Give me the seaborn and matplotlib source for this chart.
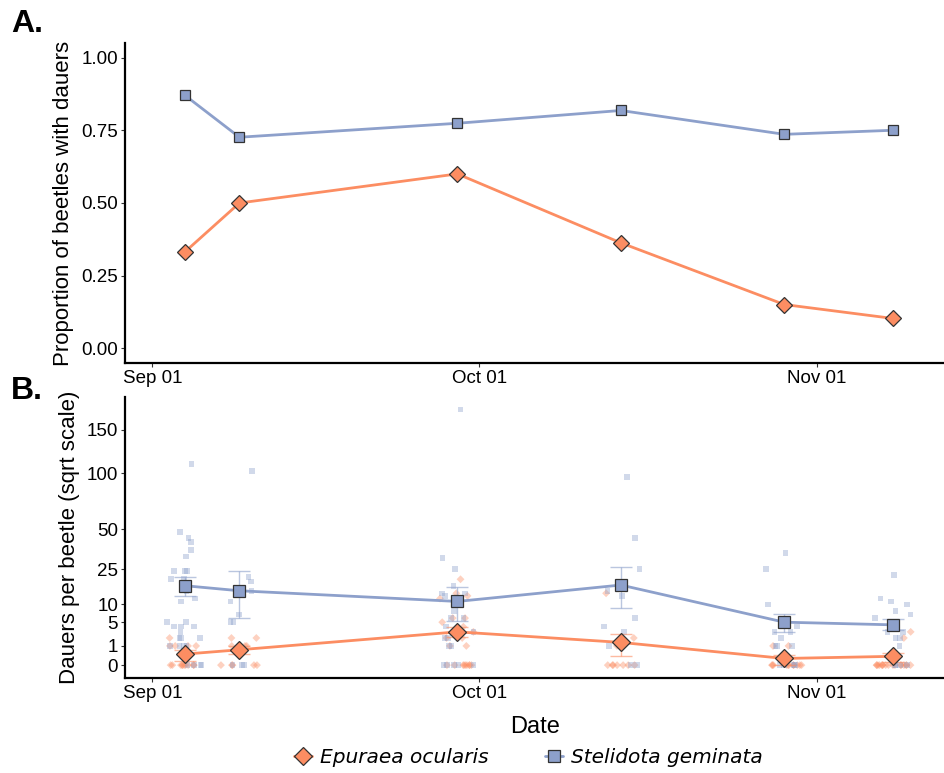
import numpy as np
import pandas as pd
import matplotlib
matplotlib.use("Agg")
import matplotlib.pyplot as plt
import matplotlib.dates as mdates
from matplotlib.lines import Line2D
import seaborn as sns

sns.set_theme(style="white")
plt.rcParams['font.family'] = ['Liberation Sans', 'DejaVu Sans']
plt.rcParams['text.color'] = 'black'
plt.rcParams['axes.labelcolor'] = 'black'

# ---------------------------------------------------------
# data
# ---------------------------------------------------------
species = ['Epuraea ocularis', 'Stelidota geminata']
dates = ['2019-09-04', '2019-09-09', '2019-09-29', '2019-10-14', '2019-10-29', '2019-11-08']

# panel A: proportion of beetles carrying dauers
prop_epuraea = [0.332, 0.50, 0.60, 0.363, 0.151, 0.103]
prop_stelidota = [0.870, 0.726, 0.774, 0.818, 0.736, 0.750]

# panel B: mean dauers per beetle and error bar ends
mean_epuraea = [0.33, 0.64, 3.0, 1.40, 0.12, 0.21]
lo_epuraea = [0.05, 0.35, 2.1, 0.22, 0.0, 0.02]
hi_epuraea = [0.60, 1.00, 4.0, 2.6, 0.27, 0.38]
mean_stelidota = [17.1, 15.0, 11.0, 17.4, 5.0, 4.4]
lo_stelidota = [12.9, 6.0, 5.3, 8.7, 3.0, 3.3]
hi_stelidota = [20.9, 23.8, 16.7, 26.3, 7.0, 5.7]

# panel B: dauers counted on each beetle
raw_epuraea = [
    [2, 1, 1, 1, 1, 0, 0, 0, 0, 0, 0, 0, 0, 0, 0],
    [2, 2, 1, 1, 1, 0, 0, 0, 0, 0],
    [20, 14, 13, 12, 6, 6, 5, 4, 3, 2, 2, 1, 1, 0, 0, 0, 0, 0, 0, 0, 0, 0],
    [14, 2, 1, 1, 0, 0, 0, 0, 0, 0, 0],
    [1, 1, 0, 0, 0, 0, 0, 0, 0, 0, 0, 0, 0],
    [3, 2, 0, 0, 0, 0, 0, 0, 0, 0, 0, 0, 0, 0, 0, 0, 0, 0, 0],
]
raw_stelidota = [
    [110, 48, 44, 41, 36, 32, 24, 24, 24, 20, 20, 15, 12, 11, 5, 5, 4, 4, 4, 3, 2, 2, 2, 1, 1, 1, 1, 0, 0, 0, 0],
    [102, 21, 19, 15, 11, 7, 5, 5, 0, 0, 0],
    [177, 31, 25, 17, 14, 14, 13, 11, 8, 6, 6, 4, 3, 2, 2, 1, 1, 0, 0, 0, 0, 0],
    [96, 44, 25, 15, 13, 6, 4, 3, 1, 0, 0],
    [34, 25, 10, 5, 4, 3, 3, 2, 1, 1, 1, 0, 0, 0, 0],
    [22, 12, 11, 10, 8, 7, 6, 3, 3, 2, 2, 1, 0, 0, 0, 0],
]

colors = {'Epuraea ocularis': '#FC8D62', 'Stelidota geminata': '#8DA0CB'}
markers = {'Epuraea ocularis': 'D', 'Stelidota geminata': 's'}
msize_a = {'Epuraea ocularis': 8.5, 'Stelidota geminata': 7.5}
msize_b = {'Epuraea ocularis': 9.5, 'Stelidota geminata': 8.2}

date_vals = pd.to_datetime(dates)
summary = pd.DataFrame({
    'Date': list(date_vals) * 2,
    'Species': [species[0]] * 6 + [species[1]] * 6,
    'Prop': prop_epuraea + prop_stelidota,
    'Mean': mean_epuraea + mean_stelidota,
    'Lo': lo_epuraea + lo_stelidota,
    'Hi': hi_epuraea + hi_stelidota,
})

# raw counts, jittered sideways like geom_jitter
rng = np.random.default_rng(3)
rows = []
for sp, raw in [(species[0], raw_epuraea), (species[1], raw_stelidota)]:
    for d, vals in zip(date_vals, raw):
        for v in vals:
            rows.append((d + pd.Timedelta(days=rng.uniform(-1.7, 1.7)), sp, v))
raw_df = pd.DataFrame(rows, columns=['Date', 'Species', 'Dauers'])

# ---------------------------------------------------------
# figure
# ---------------------------------------------------------
fig = plt.figure(figsize=(9.45, 7.73), dpi=100)
axA = fig.add_axes([0.1323, 0.5304, 0.8677, 0.414])
axB = fig.add_axes([0.1323, 0.1229, 0.8677, 0.3635])

# panel A
for sp in species:
    sub = summary[summary['Species'] == sp]
    sns.lineplot(data=sub, x='Date', y='Prop', color=colors[sp], linewidth=2,
                 marker=markers[sp], markersize=msize_a[sp],
                 markerfacecolor=colors[sp], markeredgecolor='#333333',
                 markeredgewidth=0.9, ax=axA, legend=False)
axA.set_ylim(-0.05, 1.05)
axA.set_yticks([0, 0.25, 0.5, 0.75, 1.0])
axA.set_yticklabels(['0.00', '0.25', '0.50', '0.75', '1.00'])
axA.set_ylabel('Proportion of beetles with dauers', fontsize=16, labelpad=5)

# panel B (sqrt scale)
def fwd(x):
    return np.sign(x) * np.sqrt(np.abs(x))

def inv(x):
    return np.sign(x) * x ** 2

axB.set_yscale('function', functions=(fwd, inv))
sns.scatterplot(data=raw_df, x='Date', y='Dauers', hue='Species', style='Species',
                palette=colors, markers=markers, s=16, alpha=0.4,
                linewidth=0, ax=axB, legend=False, zorder=1)
for sp in species:
    sub = summary[summary['Species'] == sp]
    axB.errorbar(sub['Date'], sub['Mean'],
                 yerr=[sub['Mean'] - sub['Lo'], sub['Hi'] - sub['Mean']],
                 fmt='none', ecolor=colors[sp], elinewidth=1, capsize=8,
                 capthick=1, alpha=0.6, zorder=2)
    sns.lineplot(data=sub, x='Date', y='Mean', color=colors[sp], linewidth=2,
                 marker=markers[sp], markersize=msize_b[sp],
                 markerfacecolor=colors[sp], markeredgecolor='#333333',
                 markeredgewidth=0.9, ax=axB, legend=False, zorder=3)
axB.set_ylim(-0.45, 195)
axB.set_yticks([0, 1, 5, 10, 25, 50, 100, 150])
axB.set_yticklabels(['0', '1', '5', '10', '25', '50', '100', '150'])
axB.set_ylabel('Dauers per beetle (sqrt scale)', fontsize=16, labelpad=5)
axB.set_xlabel('Date', fontsize=17, labelpad=10)

for ax in (axA, axB):
    ax.set_xlim(pd.Timestamp('2019-08-29 12:00'), pd.Timestamp('2019-11-12 18:00'))
    ax.xaxis.set_major_locator(mdates.MonthLocator(bymonthday=1))
    ax.xaxis.set_major_formatter(mdates.DateFormatter('%b %d'))
    for s in ['top', 'right']:
        ax.spines[s].set_visible(False)
    for s in ['left', 'bottom']:
        ax.spines[s].set_color('black')
        ax.spines[s].set_linewidth(1.6)
    ax.tick_params(axis='both', which='major', labelsize=13.5, length=3,
                   width=0.8, color='#333333', labelcolor='black',
                   bottom=True, left=True, pad=2)
axA.set_xlabel('')

# panel tags
fig.text(0.012, 0.958, 'A.', fontsize=23, fontweight='heavy', color='black')
fig.text(0.012, 0.484, 'B.', fontsize=23, fontweight='heavy', color='black')

# legend
handles = [Line2D([0], [0], color=colors[sp], marker=markers[sp], linewidth=2,
                  markersize=9 if sp == species[0] else 8,
                  markerfacecolor=colors[sp], markeredgecolor='#333333',
                  markeredgewidth=0.9) for sp in species]
fig.legend(handles, species, loc='center', bbox_to_anchor=(0.559, 0.02), ncol=2,
           frameon=False, handlelength=0.9, columnspacing=2.8, handletextpad=0.4,
           prop={'family': 'DejaVu Sans', 'style': 'italic', 'size': 14.5})

fig.savefig('out.png', dpi=100)
